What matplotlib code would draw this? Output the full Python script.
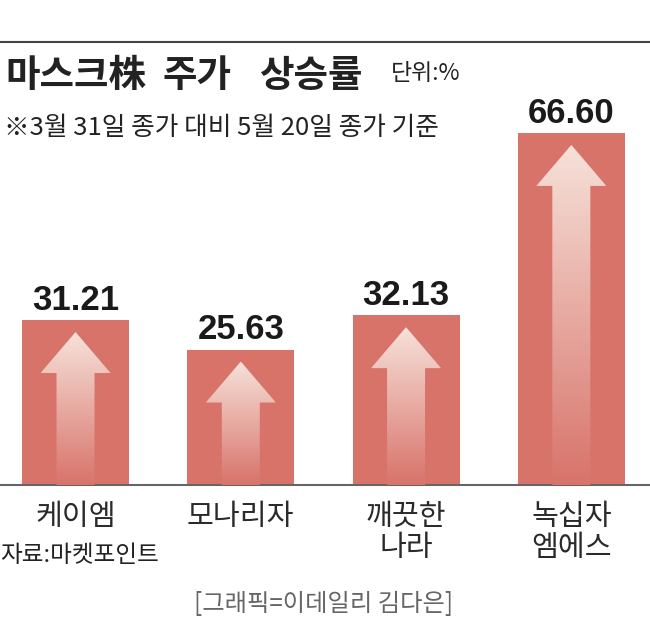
import matplotlib
matplotlib.use("Agg")
import matplotlib.pyplot as plt
import numpy as np
from matplotlib.patches import Polygon
from matplotlib.colors import to_rgb

plt.rcParams['font.family'] = ['Noto Sans CJK KR', 'DejaVu Sans']

# ---------- data ----------
companies = ["케이엠", "모나리자", "깨끗한\n나라", "녹십자\n엠에스"]
rise_pct = [31.21, 25.63, 32.13, 66.60]

BAR_COLOR = "#d8736a"
ARROW_TOP = "#f6e2da"

W, H = 650, 638
fig = plt.figure(figsize=(W / 100, H / 100), dpi=100)

base_px = 485      # baseline, px from top
top_px = 42        # top rule, px from top
ax = fig.add_axes([0, (H - base_px) / H, 1, (base_px - top_px) / H])

x = np.arange(len(companies))
ax.bar(x, rise_pct, width=0.647, color=BAR_COLOR, zorder=2)
ax.set_xlim(-0.457, 3.476)
ax.set_ylim(0, 83.8)

# px -> data unit helpers
ppu_x = W / (3.476 + 0.457)
ppu_y = (base_px - top_px) / 83.8

# ---------- gradient arrows ----------
c_top = np.array(to_rgb(ARROW_TOP))
c_bot = np.array(to_rgb(BAR_COLOR))
for xi, v in zip(x, rise_pct):
    tip = v - 12 / ppu_y
    head_base = tip - 41 / ppu_y
    hw = 35 / ppu_x
    sw = 19 / ppu_x
    pts = [(xi, tip), (xi + hw, head_base), (xi + sw, head_base),
           (xi + sw, 0), (xi - sw, 0), (xi - sw, head_base),
           (xi - hw, head_base)]
    poly = Polygon(pts, closed=True, facecolor="none", edgecolor="none")
    ax.add_patch(poly)
    t = np.linspace(0, 1, 256)[:, None]
    grad = c_top[None, :] * (1 - t) + c_bot[None, :] * t
    grad = np.repeat(grad[:, None, :], 2, axis=1)
    im = ax.imshow(grad, extent=(xi - hw, xi + hw, 0, tip),
                   aspect="auto", zorder=3, interpolation="bilinear")
    im.set_clip_path(poly)

ax.set_xlim(-0.457, 3.476)
ax.set_ylim(0, 83.8)

# ---------- value labels ----------
for xi, v in zip(x, rise_pct):
    ax.annotate(f"{v:.2f}", xy=(xi, v), xytext=(0, 7.5),
                textcoords="offset points", ha="center", va="baseline",
                fontsize=25, fontweight="bold", color="#1a1a1a",
                family=["Liberation Sans", "DejaVu Sans"])

# ---------- axes styling ----------
for s in ["top", "right", "left"]:
    ax.spines[s].set_visible(False)
ax.spines["bottom"].set_color("#666666")
ax.spines["bottom"].set_linewidth(1.5)
ax.set_yticks([])
ax.set_xticks(x)
ax.set_xticklabels(companies, fontsize=21, color="#2a2a2a", linespacing=1.05)
ax.tick_params(axis="x", length=0, pad=12)

# ---------- figure texts ----------
def fx(px):
    return px / W

def fy(py):
    return 1 - py / H

fig.add_artist(plt.Line2D([0, 1], [fy(top_px), fy(top_px)],
                          color="#444444", lw=1.5))

title_parts = [("마스크株", 5), ("주가", 162), ("상승률", 259)]
for txt, px in title_parts:
    fig.text(fx(px), fy(75), txt, fontsize=27, fontweight="bold",
             color="#222222", ha="left", va="center")
fig.text(fx(391), fy(74), "단위:%", fontsize=16.5, color="#222222",
         ha="left", va="center")
fig.text(fx(4), fy(128), "※3월 31일 종가 대비 5월 20일 종가 기준",
         fontsize=18.5, color="#222222", ha="left", va="center")
fig.text(fx(0), fy(555), "자료:마켓포인트", fontsize=17, color="#222222",
         ha="left", va="center")
fig.text(fx(323), fy(604), "[그래픽=이데일리 김다은]", fontsize=17.5,
         color="#666666", ha="center", va="center")

fig.savefig("out.png", dpi=100)
